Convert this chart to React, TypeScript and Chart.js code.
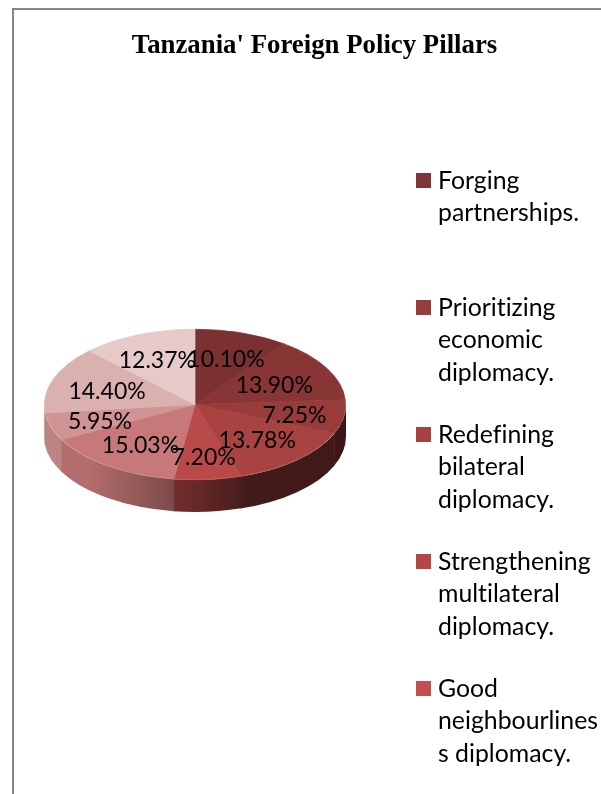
import React, { useEffect, useRef } from "react";
import { Chart, registerables } from "chart.js";

Chart.register(...registerables);

const titleText = "Tanzania' Foreign Policy Pillars";
const categories: string[][] = [
  ["Forging", "partnerships."],
  ["Prioritizing", "economic", "diplomacy."],
  ["Redefining", "bilateral", "diplomacy."],
  ["Strengthening", "multilateral", "diplomacy."],
  ["Good", "neighbourlines", "s diplomacy."],
  [],
  [],
  [],
  [],
];
const values = [10.1, 13.9, 7.25, 13.78, 7.2, 15.03, 5.95, 14.4, 12.37];
const valueLabels = ["10.10%", "13.90%", "7.25%", "13.78%", "7.20%", "15.03%", "5.95%", "14.40%", "12.37%"];
const sliceColors = ["#7b3131", "#883535", "#983c3b", "#a84342", "#b94a49", "#c67978", "#cf9493", "#dbb1b0", "#e6c9c8"];
const legendColors = ["#7f3533", "#953d3b", "#a64342", "#b24846", "#c0504d"];

const SQUASH = 0.5;
const DEPTH = 32;
const BODY_FONT = "Lato, sans-serif";
const labelRadius = [0.66, 0.6, 0.67, 0.61, 0.68, 0.63, 0.66, 0.62, 0.66];

const shadeStops: [number, number][] = [
  [0, 0.9],
  [0.15, 0.9],
  [0.43, 0.62],
  [0.65, 0.4],
  [1, 0.38],
];

function shade(hex: string, f: number) {
  const n = parseInt(hex.slice(1), 16);
  const r = Math.round(((n >> 16) & 255) * f);
  const g = Math.round(((n >> 8) & 255) * f);
  const b = Math.round((n & 255) * f);
  return `rgb(${r},${g},${b})`;
}

const pie3d = {
  id: "pie3d",
  beforeDraw(chart: any) {
    const { ctx } = chart;
    ctx.save();
    ctx.fillStyle = "#868686";
    ctx.fillRect(12, 8, 2, 794);
    ctx.fillRect(12, 8, 601, 2);
    ctx.fillStyle = "#000";
    ctx.font = "bold 26.8px 'Liberation Serif', serif";
    ctx.textAlign = "center";
    ctx.textBaseline = "middle";
    ctx.fillText(titleText, 314.5, 46);
    ctx.restore();
  },
  beforeDatasetsDraw(chart: any) {
    const { ctx } = chart;
    const arcs = chart.getDatasetMeta(0).data;
    const cx = arcs[0].x;
    const cy = arcs[0].y;
    const R = arcs[0].outerRadius + 0.5;
    // rounded side wall of the disc, front half only
    arcs.forEach((arc: any, i: number) => {
      const s = Math.max(arc.startAngle, 0);
      const e = Math.min(arc.endAngle + 0.006, Math.PI);
      if (e <= s) return;
      const grad = ctx.createLinearGradient(cx - R, 0, cx + R, 0);
      shadeStops.forEach(([t, f]) => grad.addColorStop(t, shade(sliceColors[i], f)));
      ctx.save();
      ctx.beginPath();
      ctx.ellipse(cx, cy, R, R * SQUASH, 0, s, e, false);
      ctx.ellipse(cx, cy + DEPTH, R, R * SQUASH, 0, e, s, true);
      ctx.closePath();
      ctx.fillStyle = grad;
      ctx.fill();
      ctx.restore();
    });
    ctx.save();
    ctx.translate(cx, cy);
    ctx.scale(1, SQUASH);
    ctx.translate(-cx, -cy);
  },
  afterDatasetsDraw(chart: any) {
    const { ctx } = chart;
    ctx.restore();
    const arcs = chart.getDatasetMeta(0).data;
    ctx.save();
    ctx.letterSpacing = "0.01px";
    ctx.fillStyle = "#000";
    ctx.font = `23px ${BODY_FONT}`;
    ctx.textAlign = "center";
    ctx.textBaseline = "middle";
    arcs.forEach((arc: any, i: number) => {
      const mid = (arc.startAngle + arc.endAngle) / 2;
      const r = arc.outerRadius * labelRadius[i];
      ctx.fillText(valueLabels[i], arc.x + Math.cos(mid) * r, arc.y + 2.5 + Math.sin(mid) * r * SQUASH);
    });
    // legend
    ctx.textAlign = "left";
    ctx.font = `24.8px ${BODY_FONT}`;
    legendColors.forEach((color, i) => {
      const top = 173 + i * 127;
      ctx.fillStyle = color;
      ctx.fillRect(416, top, 15, 15);
      ctx.fillStyle = "#000";
      (chart.data.labels[i] as string[]).forEach((line, j) => {
        ctx.fillText(line, 438, top + 8 + j * 32.5);
      });
    });
    ctx.restore();
  },
};

export default function App() {
  const ref = useRef<HTMLCanvasElement>(null);
  useEffect(() => {
    document.body.style.margin = "0";
    const chart = new Chart(ref.current!, {
      type: "pie",
      data: {
        labels: categories as any,
        datasets: [{ data: values, backgroundColor: sliceColors, borderColor: sliceColors, borderWidth: 1 }],
      },
      options: {
        animation: false,
        responsive: false,
        devicePixelRatio: 1,
        layout: { padding: { left: 44, right: 255, top: 253.5, bottom: 238.5 } },
        plugins: {
          legend: { display: false },
          tooltip: { enabled: false },
          title: { display: false },
        },
      } as any,
      plugins: [pie3d],
    });
    return () => chart.destroy();
  }, []);
  return <canvas ref={ref} width={601} height={794} style={{ position: "absolute", left: 0, top: 0 }} />;
}
